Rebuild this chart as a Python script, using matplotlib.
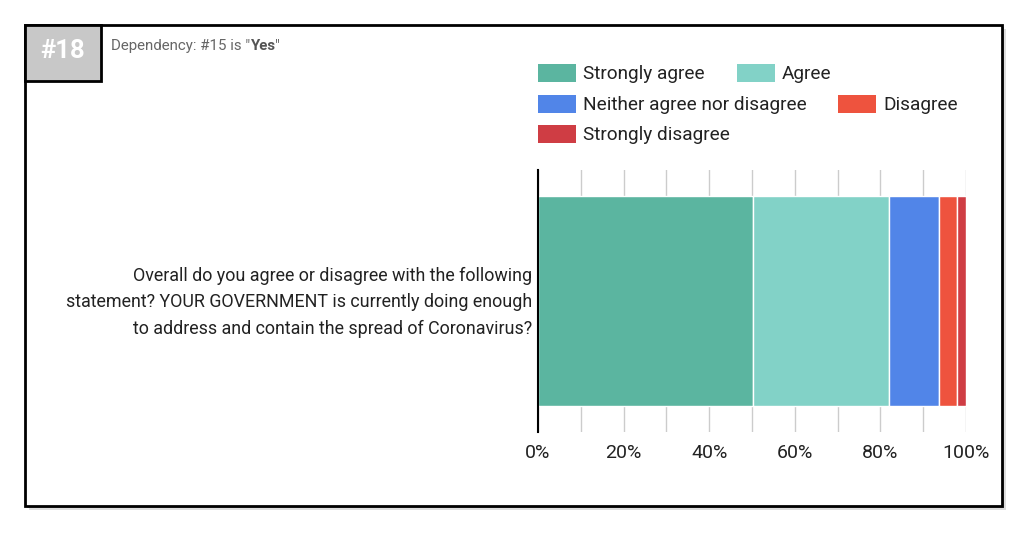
import matplotlib.pyplot as plt
import matplotlib.transforms as mtransforms
from matplotlib.patches import Rectangle

plt.rcParams['font.family'] = ['Roboto', 'DejaVu Sans']

question = ("Overall do you agree or disagree with the following\n"
            "statement? YOUR GOVERNMENT is currently doing enough\n"
            "to address and contain the spread of Coronavirus?")
answers = ["Strongly agree", "Agree", "Neither agree nor disagree",
           "Disagree", "Strongly disagree"]
shares = [50.3, 31.7, 11.8, 4.2, 2.0]
colors = ["#5bb5a0", "#82d2c7", "#5185e8", "#ee533e", "#cf3d44"]
xticks = [0, 20, 40, 60, 80, 100]

W, H = 1029, 537
fig = plt.figure(figsize=(W / 100, H / 100), dpi=100)

def px(x, y):
    return x / W, 1 - y / H

# card frame with a soft shadow
for off, c in [(4, "#dddddd"), (2, "#aaaaaa")]:
    fig.patches.append(Rectangle(px(25 + off, 506 + off), 977 / W, 481 / H,
                                 transform=fig.transFigure, facecolor=c,
                                 edgecolor="none", zorder=0))
fig.patches.append(Rectangle(px(25, 506), 977 / W, 481 / H,
                             transform=fig.transFigure, facecolor="white",
                             edgecolor="black", linewidth=2, zorder=1))
fig.patches.append(Rectangle(px(25, 81), 76 / W, 56 / H,
                             transform=fig.transFigure, facecolor="#c8c8c8",
                             edgecolor="black", linewidth=2, zorder=2))
fig.text(*px(63, 51), "#18", color="white", fontsize=18.5, fontweight="bold",
         ha="center", va="center", zorder=3)
dep_size = 10.8
t = fig.text(*px(111, 46), 'Dependency: #15 is "', color="#666666",
             fontsize=dep_size, va="center", zorder=3)
fig.canvas.draw()
bb = t.get_window_extent()
t2 = fig.text(bb.x1 / W, 1 - 46 / H, "Yes", color="#555555", fontsize=dep_size,
              fontweight="bold", va="center", zorder=3)
bb2 = t2.get_window_extent(fig.canvas.get_renderer())
fig.text(bb2.x1 / W, 1 - 46 / H, '"', color="#666666", fontsize=dep_size,
         va="center", zorder=3)

ax = fig.add_axes([538 / W, (H - 432) / H, 428 / W, 262 / H])
ax.set_zorder(4)
ax.patch.set_alpha(0)
left = 0
for a, s, c in zip(answers, shares, colors):
    ax.barh(0, s, left=left, height=0.8, color=c, edgecolor="white",
            linewidth=1, zorder=3, label=a)
    left += s

ax.set_xlim(0, 100)
ax.set_ylim(-0.5, 0.5)
ax.set_xticks(xticks)
ax.set_xticklabels([f"{v}%" for v in xticks], fontsize=14, color="#222222")
ax.set_xticks(range(10, 100, 20), minor=True)
ax.grid(axis="x", which="both", color="#cccccc", linewidth=1, zorder=0)
ax.tick_params(axis="x", which="both", length=0, pad=9)
ax.set_yticks([0])
ax.set_yticklabels([question], fontsize=12.9, color="#222222",
                   multialignment="right", linespacing=1.6)
ax.tick_params(axis="y", length=0, pad=4)
shift = mtransforms.ScaledTranslation(0, 5 / 100, fig.dpi_scale_trans)
for lab in ax.get_yticklabels():
    lab.set_transform(lab.get_transform() + shift)
for side in ["top", "right", "bottom"]:
    ax.spines[side].set_visible(False)
ax.spines["left"].set_linewidth(1.5)
ax.spines["left"].set_zorder(5)

# flow legend, positions in pixels
legend_pos = [(538, 73), (737, 73), (538, 104), (838, 104), (538, 134)]
for (x, y), a, c in zip(legend_pos, answers, colors):
    fig.patches.append(Rectangle(px(x, y + 9), 38 / W, 18 / H,
                                 transform=fig.transFigure, facecolor=c,
                                 edgecolor="none", zorder=3))
    fig.text(*px(x + 45, y + 1), a, fontsize=13.7, color="#222222",
             va="center", zorder=3)

fig.savefig("out.png", dpi=100)
